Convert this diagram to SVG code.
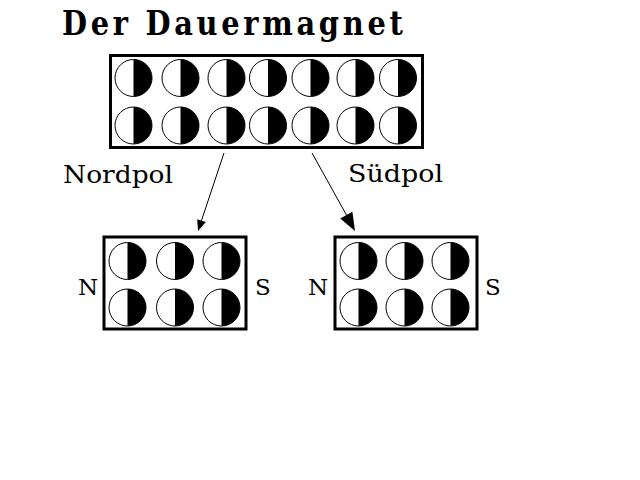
<svg xmlns="http://www.w3.org/2000/svg" xmlns:xlink="http://www.w3.org/1999/xlink" width="640" height="480" viewBox="0 0 640 480">
<style>
.box{fill:#fff;stroke:#000;stroke-width:3}
.lbl{font-family:"DejaVu Serif","Liberation Serif",serif;fill:#000}
.title{font-family:"DejaVu Serif","Liberation Serif",serif;font-weight:bold;font-size:34px;fill:#000}
.conn{stroke:#000;stroke-width:1;fill:none}
</style>
<defs>
<g id="m">
<circle r="18.5" fill="#fff" stroke="#000" stroke-width="1"/>
<path d="M0,-18.5 A18.5,18.5 0 0 1 0,18.5 Z" fill="#000"/>
</g>
</defs>
<rect width="640" height="480" fill="#fff"/>
<text class="title" transform="translate(62,35) scale(0.85,1)" x="0" y="0" textLength="401" lengthAdjust="spacing">Der Dauermagnet</text>
<g id="dauermagnet">
<rect class="box" x="110.5" y="55.5" width="312" height="92"/>
<use xlink:href="#m" x="133.5" y="78"/>
<use xlink:href="#m" x="180.5" y="78"/>
<use xlink:href="#m" x="226.5" y="78"/>
<use xlink:href="#m" x="268" y="78"/>
<use xlink:href="#m" x="310.5" y="78"/>
<use xlink:href="#m" x="355.5" y="78"/>
<use xlink:href="#m" x="398" y="78"/>
<use xlink:href="#m" x="133.5" y="125.5"/>
<use xlink:href="#m" x="180.5" y="125.5"/>
<use xlink:href="#m" x="226.5" y="125.5"/>
<use xlink:href="#m" x="268" y="125.5"/>
<use xlink:href="#m" x="310.5" y="125.5"/>
<use xlink:href="#m" x="355.5" y="125.5"/>
<use xlink:href="#m" x="398" y="125.5"/>
</g>
<g id="connectors">
<line class="conn" x1="224" y1="153" x2="201" y2="222"/>
<polygon points="198,231 205.8,222 197.2,219.2" fill="#000"/>
<line class="conn" x1="312" y1="153" x2="347" y2="216"/>
<polygon points="355,231 340.2,218.6 352.4,211.8" fill="#000"/>
</g>
<g id="nordpol">
<text class="lbl" x="63" y="183" font-size="25" textLength="110" lengthAdjust="spacingAndGlyphs">Nordpol</text>
<rect class="box" x="104" y="237" width="142" height="92"/>
<use xlink:href="#m" x="127.5" y="261"/>
<use xlink:href="#m" x="175" y="261"/>
<use xlink:href="#m" x="221.5" y="261"/>
<use xlink:href="#m" x="127.5" y="307.5"/>
<use xlink:href="#m" x="175" y="307.5"/>
<use xlink:href="#m" x="221.5" y="307.5"/>
<text class="lbl" x="78" y="295" font-size="23">N</text>
<text class="lbl" x="255" y="295" font-size="23">S</text>
</g>
<g id="suedpol">
<text class="lbl" x="348" y="182" font-size="25" textLength="95" lengthAdjust="spacingAndGlyphs">Südpol</text>
<rect class="box" x="335" y="237" width="142" height="92"/>
<use xlink:href="#m" x="358.5" y="261"/>
<use xlink:href="#m" x="404.5" y="261"/>
<use xlink:href="#m" x="450.5" y="261"/>
<use xlink:href="#m" x="358.5" y="307.5"/>
<use xlink:href="#m" x="404.5" y="307.5"/>
<use xlink:href="#m" x="450.5" y="307.5"/>
<text class="lbl" x="308" y="295" font-size="23">N</text>
<text class="lbl" x="485" y="295" font-size="23">S</text>
</g>
</svg>
